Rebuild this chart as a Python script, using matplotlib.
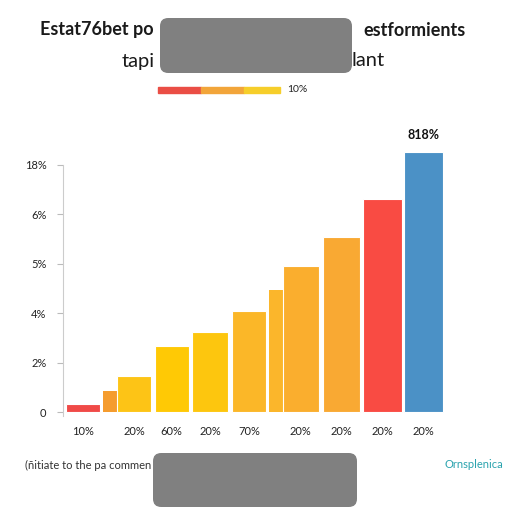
import matplotlib
matplotlib.use("Agg")
import matplotlib.pyplot as plt
from matplotlib.patches import FancyBboxPatch, Rectangle

plt.rcParams["font.family"] = ["Lato", "DejaVu Sans"]

# values are in tick-step units (the y ticks are evenly spaced but oddly labelled)
bar_values = [0.16, 0.73, 1.33, 1.62, 2.04, 2.95, 3.54, 4.30, 5.25]
bar_labels = ["10%", "20%", "60%", "20%", "70%", "20%", "20%", "20%", "20%"]
bar_colors = ["#F04A47", "#FDC416", "#FFC905", "#FDC60E", "#FBB728",
              "#FAAE2E", "#F9A933", "#F94B43", "#4B91C6"]
stub_values = [0.42, 2.46]
stub_colors = ["#F59C2E", "#FBB62B"]
ytick_labels = ["0", "2%", "4%", "5%", "6%", "18%"]
top_label = "818%"

# layout
bar_pos = [0, 1.31, 2.28, 3.26, 4.26, 5.59, 6.62, 7.67, 8.74]
bar_width = [0.87, 0.87, 0.87, 0.9, 0.87, 0.92, 0.95, 1.0, 1.0]
stub_pos = [0.78, 5.05]
stub_width = [0.55, 0.55]

W = H = 512


def fx(px):
    return px / W


def fy(py):
    return 1 - py / H


fig = plt.figure(figsize=(5.12, 5.12), dpi=100)
fig.patch.set_facecolor("white")

ax = fig.add_axes([fx(63), fy(416), fx(460) - fx(63), fy(130) - fy(416)])
ax.bar(stub_pos, stub_values, width=stub_width, color=stub_colors, zorder=1)
ax.bar(bar_pos, bar_values, width=bar_width, color=bar_colors,
       edgecolor="white", linewidth=0.8, zorder=2)

ax.set_xlim(-0.51, 9.67)
ax.set_ylim(-0.08, 5.70)
ax.set_yticks(range(len(ytick_labels)))
ax.set_yticklabels(ytick_labels, fontsize=8, color="#222222")
ax.set_xticks(bar_pos)
ax.set_xticklabels(bar_labels, fontsize=8, color="#222222")
ax.tick_params(axis="x", length=0, pad=7)
ax.tick_params(axis="y", length=4, color="#BBBBBB", width=0.8, pad=8)
for side in ["top", "right", "bottom"]:
    ax.spines[side].set_visible(False)
ax.spines["left"].set_color("#CCCCCC")
ax.spines["left"].set_linewidth(0.8)
ax.spines["left"].set_bounds(-0.08, 5.0)
ax.text(bar_pos[-1], bar_values[-1] + 0.22, top_label, ha="center", va="bottom",
        fontsize=9, fontweight="bold", color="#111111")

# headings
fig.text(fx(40), fy(30), "Estat76bet po", ha="left", va="center",
         fontsize=13, fontweight="bold", color="#1A1A1A")
fig.text(fx(466), fy(30), "estformients", ha="right", va="center",
         fontsize=13, fontweight="bold", color="#1A1A1A")
fig.text(fx(122), fy(61), "tapi", ha="left", va="center",
         fontsize=14.5, color="#1A1A1A")
fig.text(fx(385), fy(61), "lant", ha="right", va="center",
         fontsize=14.5, color="#1A1A1A")

# small colour legend strip
for x0, x1, c in [(158, 201, "#EA4E45"), (201, 244, "#F2A53A"), (244, 280, "#F6CE2A")]:
    fig.patches.append(Rectangle((fx(x0), fy(93)), fx(x1) - fx(x0), 6 / H,
                                 transform=fig.transFigure, color=c))
fig.text(fx(287), fy(90), "10%", ha="left", va="center", fontsize=7.5, color="#222222")

# footer
fig.text(fx(25), fy(465), "(ñitiate to the pa commen", ha="left", va="center",
         fontsize=8, color="#333333")
fig.text(fx(503), fy(465), "Ornsplenica", ha="right", va="center",
         fontsize=8, color="#2AA3AE")

# grey overlay boxes (their advertising text left out)
for x0, y0, x1, y1 in [(160, 18, 352, 73), (153, 453, 357, 507)]:
    fig.patches.append(FancyBboxPatch((fx(x0), fy(y1)), fx(x1) - fx(x0), (y1 - y0) / H,
                                      boxstyle="round,pad=0,rounding_size=0.016",
                                      transform=fig.transFigure,
                                      facecolor="#808080", edgecolor="none"))

fig.savefig("out.png", dpi=100)
